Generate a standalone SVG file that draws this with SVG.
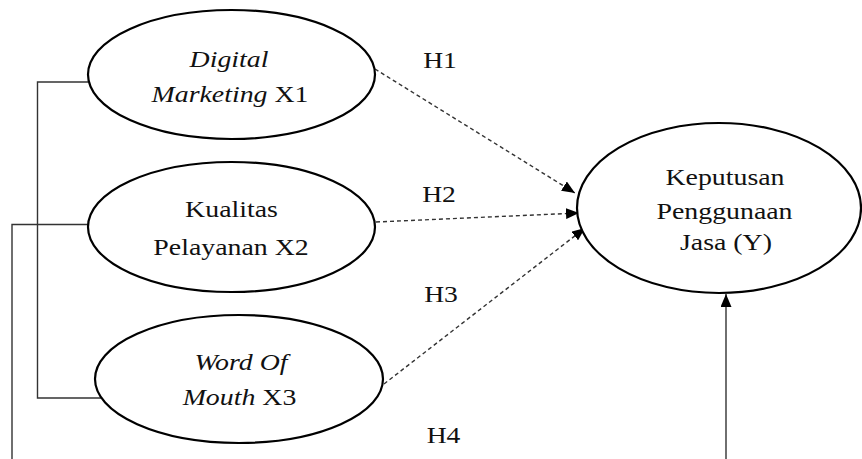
<svg xmlns="http://www.w3.org/2000/svg" width="862" height="459" viewBox="0 0 862 459">
  <style>
    .node { fill: #ffffff; stroke: #000000; stroke-width: 2.2; }
    .lbl { font-family: 'Liberation Serif', 'Times New Roman', serif; font-size: 24px; fill: #111111; text-anchor: middle; }
    .it { font-style: italic; }
    .link { fill: none; stroke: #333333; stroke-width: 1.4; }
    .dash { fill: none; stroke: #333333; stroke-width: 1.4; stroke-dasharray: 4 3; }
  </style>
  <defs>
    <marker id="head" viewBox="0 0 13 11" refX="13" refY="5.5" markerWidth="13" markerHeight="11" markerUnits="userSpaceOnUse" orient="auto">
      <path d="M0,0 L13,5.5 L0,11 z" fill="#000000"/>
    </marker>
  </defs>

  <rect x="0" y="0" width="862" height="459" fill="#ffffff"/>

  <!-- connectors -->
  <g id="connectors">
    <polyline class="link" points="88,82 37.5,82 37.5,398 101.5,398"/>
    <polyline class="link" points="88,224.5 12,224.5 12,459"/>
    <line class="link" x1="726" y1="459" x2="726" y2="294" marker-end="url(#head)"/>
    <line class="dash" x1="375" y1="69" x2="575" y2="193" marker-end="url(#head)"/>
    <line class="dash" x1="376" y1="222" x2="579" y2="213" marker-end="url(#head)"/>
    <line class="dash" x1="384" y1="384" x2="585" y2="228" marker-end="url(#head)"/>
  </g>

  <!-- hypothesis labels -->
  <g id="hypotheses">
    <text class="lbl" transform="matrix(1.15 0 0 1 440 68)">H1</text>
    <text class="lbl" transform="matrix(1.15 0 0 1 439 202)">H2</text>
    <text class="lbl" transform="matrix(1.15 0 0 1 441 302)">H3</text>
    <text class="lbl" transform="matrix(1.15 0 0 1 443.5 443)">H4</text>
  </g>

  <g id="x1">
    <ellipse class="node" cx="231.5" cy="74.5" rx="143.5" ry="64.5"/>
    <text class="lbl it" transform="matrix(1.16 0 0 1 229 67)">Digital</text>
    <text class="lbl" transform="matrix(1.16 0 0 1 230 102)"><tspan class="it">Marketing</tspan> X1</text>
  </g>

  <g id="x2">
    <ellipse class="node" cx="231.5" cy="227" rx="143.5" ry="65"/>
    <text class="lbl" transform="matrix(1.16 0 0 1 231.5 217)">Kualitas</text>
    <text class="lbl" transform="matrix(1.16 0 0 1 231 255)">Pelayanan X2</text>
  </g>

  <g id="x3">
    <ellipse class="node" cx="239" cy="379" rx="144" ry="64"/>
    <text class="lbl it" transform="matrix(1.16 0 0 1 241 370)">Word Of</text>
    <text class="lbl" transform="matrix(1.16 0 0 1 239.5 405)"><tspan class="it">Mouth</tspan> X3</text>
  </g>

  <g id="y">
    <ellipse class="node" cx="719" cy="208" rx="142" ry="85"/>
    <text class="lbl" transform="matrix(1.16 0 0 1 725 185)">Keputusan</text>
    <text class="lbl" transform="matrix(1.16 0 0 1 724.5 219)">Penggunaan</text>
    <text class="lbl" transform="matrix(1.16 0 0 1 726 250)">Jasa (Y)</text>
  </g>
</svg>
